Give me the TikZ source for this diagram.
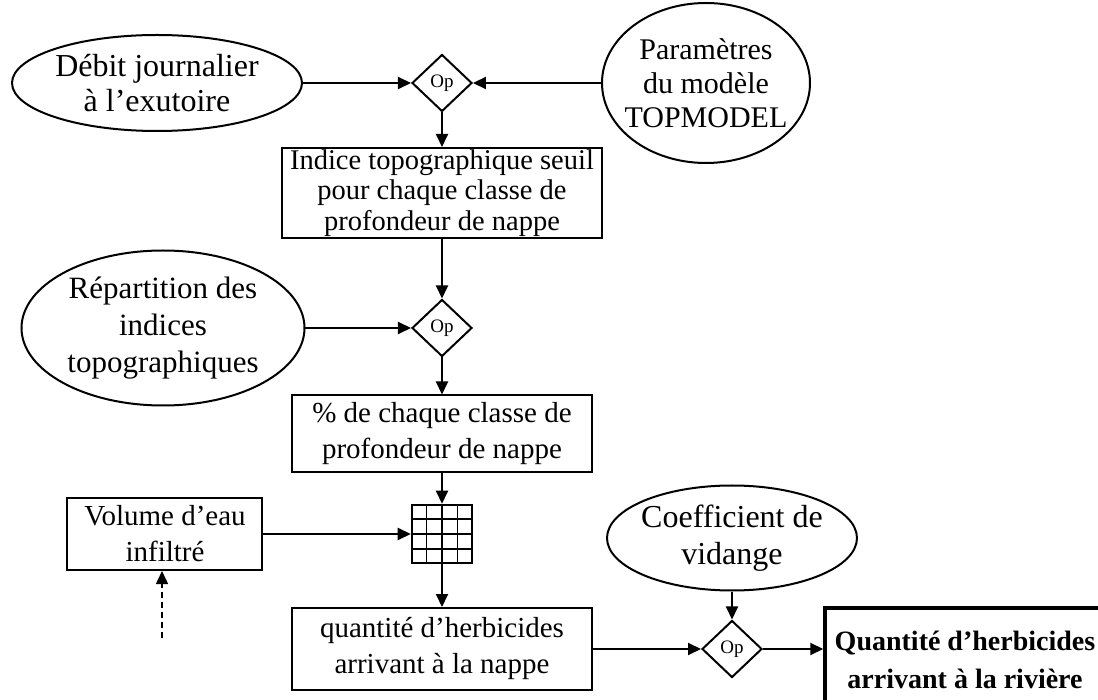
\documentclass[tikz,border=0pt]{standalone}
\usepackage{fontspec}
\setmainfont{Liberation Serif}
\usepackage{tikz}
\usetikzlibrary{shapes.geometric, arrows.meta, positioning, calc}
\tikzstyle{oval} = [draw, ellipse, line width=2pt, inner xsep=-8pt, inner ysep=0pt, align=center, font=\fontsize{30}{34}\selectfont]
\tikzstyle{box} = [draw, rectangle, line width=2pt, inner sep=0pt, align=center, font=\fontsize{29}{36}\selectfont]
\tikzstyle{result} = [box, line width=3.5pt, font=\fontsize{28}{38}\selectfont\bfseries]
\tikzstyle{op} = [draw, diamond, line width=2pt, inner sep=0pt, minimum width=60pt, minimum height=57pt, font=\fontsize{19}{19}\selectfont]
\tikzstyle{grille} = [draw, rectangle, line width=2.5pt, minimum width=60pt, minimum height=58pt]
\tikzstyle{arrow} = [line width=2pt,->,>={Triangle[length=13pt,width=12pt]}]
\tikzstyle{dasharrow} = [arrow, line width=1.5pt, dash pattern=on 6pt off 4pt]

\begin{document}
\begin{tikzpicture}[node distance=100pt]
    \useasboundingbox (-442pt,83pt) rectangle (656pt,-617pt);
    \node (op1) [op] {Op};
    \node (seuil) [box, below of=op1, node distance=110pt, minimum width=320pt, minimum height=90pt, font=\fontsize{28.5}{30.5}\selectfont] {Indice topographique seuil\\pour chaque classe de\\profondeur de nappe};
    \node (op2) [op, below of=seuil, node distance=135pt] {Op};
    \node (pct) [box, below of=op2, node distance=106pt, minimum width=300pt, minimum height=77pt] {\% de chaque classe de\\profondeur de nappe};
    \node (grid) [grille, below of=pct, node distance=100pt] {};
    \node (nappe) [box, below of=grid, node distance=115pt, minimum width=300pt, minimum height=82pt] {quantité d’herbicides\\arrivant à la nappe};
    \node (op3) [op, right of=nappe, node distance=290pt] {Op};
    \node (riviere) [result, right of=op3, node distance=233pt, yshift=-11pt, minimum width=280pt, minimum height=104pt] {Quantité d’herbicides\\arrivant à la rivière};
    \node (vidange) [oval, above of=op3, node distance=111pt, minimum width=250pt, minimum height=105pt, font=\fontsize{32}{37}\selectfont] {Coefficient de\\vidange};
    \node (debit) [oval, left of=op1, node distance=285pt, minimum width=290pt, minimum height=96pt, font=\fontsize{32}{35}\selectfont] {Débit journalier\\à l’exutoire};
    \node (param) [oval, right of=op1, node distance=264pt, minimum width=208pt, minimum height=160pt] {Paramètres\\du modèle\\TOPMODEL};
    \node (repart) [oval, left of=op2, node distance=279pt, minimum width=283pt, minimum height=155pt, font=\fontsize{31}{37}\selectfont] {Répartition des\\indices\\topographiques};
    \node (volume) [box, left of=grid, node distance=277pt, minimum width=195pt, minimum height=72pt] {Volume d’eau\\infiltré};
    \coordinate [below of=volume, node distance=104pt, xshift=-3pt] (infiltration);

    % grille 4x4
    \foreach \k in {1,2,3} {
        \draw [line width=1.5pt] ($(grid.north west)!\k/4!(grid.north east)$) -- ($(grid.south west)!\k/4!(grid.south east)$);
        \draw [line width=1.5pt] ($(grid.north west)!\k/4!(grid.south west)$) -- ($(grid.north east)!\k/4!(grid.south east)$);
    }

    \draw [arrow] (debit) -- (op1);
    \draw [arrow] (param) -- (op1);
    \draw [arrow] (op1) -- (seuil);
    \draw [arrow] (seuil) -- (op2);
    \draw [arrow] (repart) -- (op2);
    \draw [arrow] (op2) -- (pct);
    \draw [arrow] (pct) -- (grid);
    \draw [arrow] (volume) -- (grid);
    \draw [arrow] (grid) -- (nappe);
    \draw [arrow] (nappe) -- (op3);
    \draw [arrow] (vidange) -- (op3);
    \draw [arrow] (op3) -- (op3 -| riviere.west);
    \draw [dasharrow] (infiltration) -- (infiltration |- volume.south);
\end{tikzpicture}
\end{document}
